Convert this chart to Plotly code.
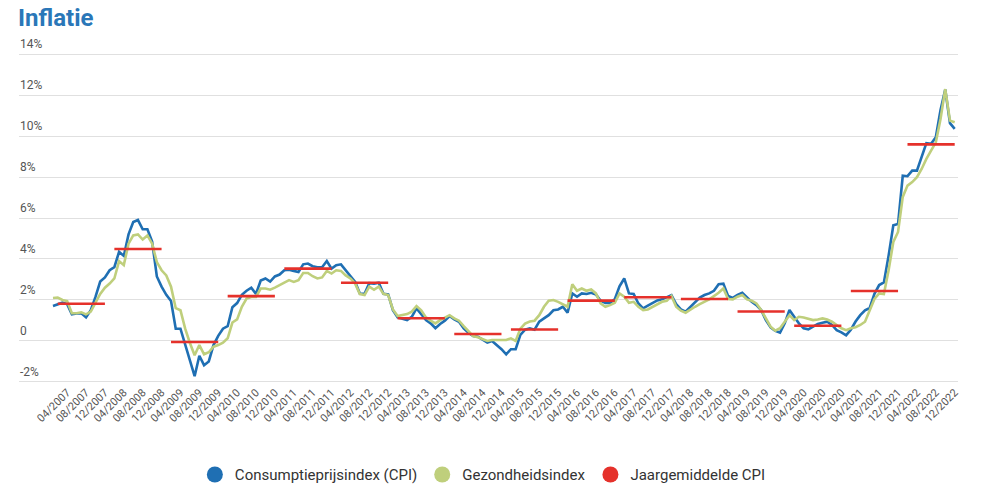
import plotly.graph_objects as go

years = list(range(2007, 2023))
months = [f"{m:02d}/{y}" for y in years for m in range(1, 13)]

# Consumptieprijsindex (CPI), % year-on-year, monthly 01/2007 .. 12/2022
cpi = [
    1.71, 1.80, 1.87, 1.80, 1.30, 1.34, 1.35, 1.15, 1.50, 2.15, 2.90, 3.10,   # 2007
    3.45, 3.60, 4.35, 4.15, 5.20, 5.80, 5.90, 5.45, 5.45, 4.85, 3.15, 2.65,   # 2008
    2.25, 1.95, 0.60, 0.60, -0.15, -0.95, -1.72, -0.72, -1.18, -1.00, -0.20, 0.25,  # 2009
    0.60, 0.72, 1.65, 1.85, 2.25, 2.45, 2.60, 2.30, 2.95, 3.05, 2.90, 3.15,   # 2010
    3.24, 3.45, 3.48, 3.42, 3.37, 3.74, 3.78, 3.65, 3.60, 3.60, 3.90, 3.53,   # 2011
    3.70, 3.74, 3.45, 3.16, 2.88, 2.32, 2.30, 2.82, 2.80, 2.84, 2.30, 2.27,   # 2012
    1.50, 1.15, 1.10, 1.02, 1.18, 1.59, 1.31, 1.02, 0.86, 0.62, 0.83, 0.99,   # 2013
    1.22, 1.05, 0.94, 0.62, 0.40, 0.24, 0.21, 0.05, -0.08, 0.00, -0.19, -0.40,  # 2014
    -0.65, -0.40, -0.40, 0.30, 0.55, 0.62, 0.55, 0.94, 1.10, 1.26, 1.50, 1.54,  # 2015
    1.67, 1.38, 2.32, 2.16, 2.32, 2.29, 2.35, 2.27, 1.96, 1.86, 1.86, 2.04,   # 2016
    2.67, 3.05, 2.32, 2.29, 1.83, 1.59, 1.72, 1.86, 1.98, 2.03, 2.12, 2.24,   # 2017
    1.80, 1.54, 1.43, 1.67, 1.91, 2.12, 2.24, 2.32, 2.45, 2.77, 2.80, 2.20,   # 2018
    2.10, 2.25, 2.35, 2.12, 1.91, 1.75, 1.51, 1.02, 0.66, 0.49, 0.41, 0.86,   # 2019
    1.51, 1.18, 0.86, 0.62, 0.57, 0.70, 0.83, 0.89, 0.94, 0.78, 0.53, 0.42,   # 2020
    0.28, 0.55, 0.95, 1.26, 1.50, 1.61, 2.30, 2.73, 2.86, 4.16, 5.64, 5.71,   # 2021
    8.06, 8.04, 8.31, 8.31, 8.97, 9.65, 9.62, 9.94, 11.27, 12.27, 10.63, 10.35,  # 2022
]

# Gezondheidsindex, % year-on-year, monthly 01/2007 .. 12/2022
health = [
    2.10, 2.12, 2.00, 1.95, 1.35, 1.35, 1.40, 1.30, 1.43, 1.83, 2.30, 2.60,   # 2007
    2.80, 3.05, 3.90, 3.70, 4.75, 5.15, 5.20, 4.95, 5.15, 4.75, 3.85, 3.45,   # 2008
    3.20, 2.65, 1.60, 1.50, 0.60, -0.10, -0.70, -0.20, -0.65, -0.55, -0.28, -0.20,  # 2009
    -0.08, 0.13, 0.90, 1.05, 1.67, 2.07, 2.15, 2.15, 2.56, 2.56, 2.50, 2.60,  # 2010
    2.72, 2.84, 2.97, 2.88, 2.97, 3.32, 3.32, 3.16, 3.05, 3.10, 3.42, 3.29,   # 2011
    3.45, 3.42, 3.20, 3.05, 2.80, 2.29, 2.24, 2.65, 2.50, 2.65, 2.30, 2.24,   # 2012
    1.54, 1.22, 1.26, 1.31, 1.43, 1.70, 1.50, 1.15, 0.99, 0.86, 1.02, 1.15,   # 2013
    1.26, 1.10, 0.99, 0.73, 0.50, 0.24, 0.18, 0.08, 0.00, 0.05, 0.05, 0.02,   # 2014
    0.05, 0.13, 0.00, 0.60, 0.85, 0.95, 0.99, 1.26, 1.67, 1.96, 2.00, 1.91,   # 2015
    1.80, 1.67, 2.77, 2.45, 2.56, 2.45, 2.51, 2.32, 1.83, 1.67, 1.75, 1.86,   # 2016
    2.32, 2.16, 1.86, 1.91, 1.67, 1.51, 1.54, 1.67, 1.80, 1.91, 1.96, 2.19,   # 2017
    1.67, 1.48, 1.38, 1.54, 1.67, 1.80, 1.91, 2.03, 2.19, 2.35, 2.56, 2.05,   # 2018
    2.03, 2.16, 2.24, 2.03, 1.96, 1.83, 1.51, 1.10, 0.70, 0.50, 0.62, 0.94,   # 2019
    1.26, 1.02, 1.18, 1.15, 1.10, 1.02, 1.05, 1.10, 1.05, 0.94, 0.78, 0.62,   # 2020
    0.53, 0.62, 0.67, 0.78, 0.94, 1.51, 2.05, 2.32, 2.29, 3.45, 4.83, 5.32,   # 2021
    7.03, 7.58, 7.75, 7.99, 8.39, 8.88, 9.29, 9.69, 10.83, 12.29, 10.75, 10.67,  # 2022
]

# Jaargemiddelde CPI per year
yearly_avg = [1.82, 4.49, -0.05, 2.19, 3.53, 2.84, 1.11, 0.34,
              0.56, 1.97, 2.13, 2.05, 1.44, 0.74, 2.44, 9.59]

y_ticks = [-2, 0, 2, 4, 6, 8, 10, 12, 14]
y_tick_text = ["-2%", "0", "2%", "4%", "6%", "8%", "10%", "12%", "14%"]
x_tick_labels = [m for i, m in enumerate(months) if i % 4 == 3]

# yearly average shown from Feb to Dec of each year (gap at January)
avg_series = []
for yi, y in enumerate(years):
    for m in range(1, 13):
        avg_series.append(None if m == 1 else yearly_avg[yi])

BLUE = "#1f6fb3"
GREEN = "#bfcf7c"
RED = "#e5312b"
FONT = "Roboto"

fig = go.Figure()
fig.add_trace(go.Scatter(x=months, y=cpi, mode="lines", line=dict(color=BLUE, width=2.6),
                         showlegend=False, name="Consumptieprijsindex (CPI)"))
fig.add_trace(go.Scatter(x=months, y=health, mode="lines", line=dict(color=GREEN, width=2.6),
                         showlegend=False, name="Gezondheidsindex"))
fig.add_trace(go.Scatter(x=months, y=avg_series, mode="lines", line=dict(color=RED, width=2.6),
                         connectgaps=False, showlegend=False, name="Jaargemiddelde CPI"))

for name, col in [("Consumptieprijsindex (CPI)", BLUE), ("Gezondheidsindex", GREEN),
                  ("Jaargemiddelde CPI", RED)]:
    fig.add_trace(go.Scatter(x=[None], y=[None], mode="markers", name=name,
                             marker=dict(color=col, size=16, symbol="circle")))

# y tick labels: left-aligned, sitting just above each gridline
for v, t in zip(y_ticks, y_tick_text):
    fig.add_annotation(x=0, xref="paper", y=v, yref="y", text=t, showarrow=False,
                       xanchor="left", yanchor="bottom", yshift=1, xshift=-1,
                       font=dict(family=FONT, size=12, color="#555555"))

fig.update_layout(
    width=982, height=496,
    paper_bgcolor="white", plot_bgcolor="white",
    margin=dict(l=19, r=24, t=53, b=113, autoexpand=False),
    font=dict(family=FONT, color="#555555"),
    title=dict(text="<b>Inflatie</b>", x=18 / 982, xanchor="left", xref="container",
               y=1 - 9 / 496, yanchor="top", yref="container",
               font=dict(family=FONT, size=24, color="#2a77b8")),
    legend=dict(orientation="h", x=0.494, xanchor="center", y=-0.278, yanchor="middle",
                font=dict(family=FONT, size=15, color="#333333"), itemsizing="trace",
                bgcolor="rgba(0,0,0,0)"),
    showlegend=True,
)
fig.update_xaxes(
    type="category", range=[-7.2, 191.7], automargin=False,
    tickmode="array", tickvals=x_tick_labels, ticktext=x_tick_labels,
    tickangle=-45, tickfont=dict(family=FONT, size=11, color="#555555"),
    showgrid=False, showline=False, zeroline=False, ticks="",
)
fig.update_yaxes(
    range=[-2.05, 14.05], tickmode="array", tickvals=y_ticks, automargin=False,
    showticklabels=False,
    showgrid=True, gridcolor="#e0e0e0", gridwidth=1, zeroline=False, showline=False,
    ticks="",
)

fig.write_html(
    "out.html",
    config={"displayModeBar": False},
    post_script="document.body.style.margin='0';document.body.style.overflow='hidden';",
)
